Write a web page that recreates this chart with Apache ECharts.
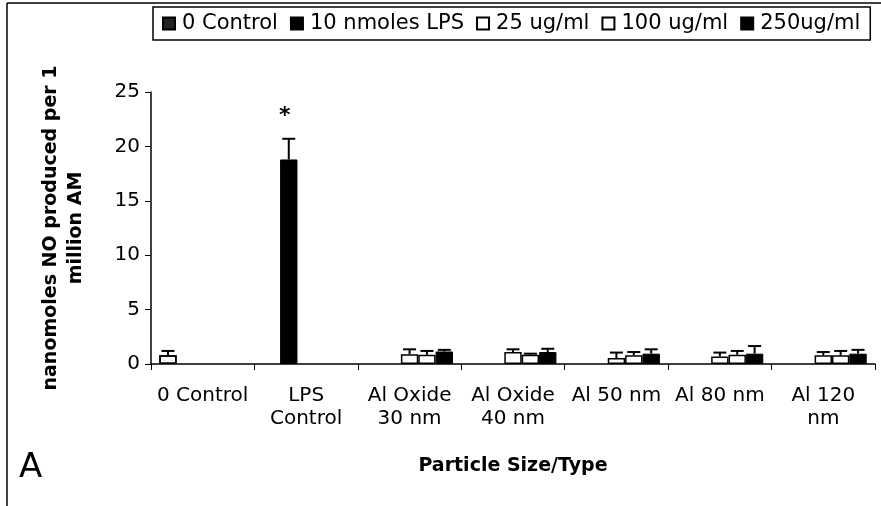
<!DOCTYPE html>
<html>
<head>
<meta charset="utf-8">
<script src="https://cdn.jsdelivr.net/npm/echarts@6/dist/echarts.min.js"></script>
<style>
  html, body { margin: 0; padding: 0; background: #fff; }
  #chart { width: 881px; height: 506px; }
</style>
</head>
<body>
<div id="chart"></div>
<script>
var categories = ['0 Control', 'LPS\nControl', 'Al Oxide\n30 nm', 'Al Oxide\n40 nm', 'Al 50 nm', 'Al 80 nm', 'Al 120\nnm'];
var seriesNames = ['0 Control', '10 nmoles LPS', '25 ug/ml', '100 ug/ml', '250ug/ml'];

var control0 = [0.8, null, null, null, null, null, null];
var lps10 = [null, 18.8, null, null, null, null, null];
var dose25 = [null, null, 0.9, 1.1, 0.55, 0.7, 0.8];
var dose100 = [null, null, 0.85, 0.85, 0.8, 0.85, 0.8];
var dose250 = [null, null, 1.15, 1.1, 0.95, 0.95, 0.95];

var control0Err = [0.4, null, null, null, null, null, null];
var lps10Err = [null, 1.9, null, null, null, null, null];
var dose25Err = [null, null, 0.45, 0.25, 0.5, 0.35, 0.3];
var dose100Err = [null, null, 0.35, 0.1, 0.3, 0.35, 0.4];
var dose250Err = [null, null, 0.15, 0.3, 0.4, 0.7, 0.35];

var yTicks = [0, 5, 10, 15, 20, 25];

var font = '"DejaVu Sans", sans-serif';
var catGap = 0.16;
var values = [control0, lps10, dose25, dose100, dose250];
var errors = [control0Err, lps10Err, dose25Err, dose100Err, dose250Err];
var styles = [
  { color: '#fff', borderColor: '#000', borderWidth: 1.5,
    decal: { symbol: 'rect', symbolSize: 0.6, color: '#333', dashArrayX: [1, 2], dashArrayY: [1, 3], rotation: 0.6 } },
  { color: '#000', borderColor: '#000', borderWidth: 1 },
  { color: '#fff', borderColor: '#000', borderWidth: 1.5 },
  { color: '#fff', borderColor: '#000', borderWidth: 1.5 },
  { color: '#000', borderColor: '#000', borderWidth: 1 }
];

var series = [];
values.forEach(function (vals, i) {
  var s = {
    name: seriesNames[i],
    type: 'bar',
    data: vals,
    barGap: '0%',
    barCategoryGap: (catGap * 100) + '%',
    itemStyle: styles[i],
    emphasis: { disabled: true }
  };
  if (i === 1) {
    s.markPoint = {
      symbol: 'circle', symbolSize: 0,
      label: { show: true, formatter: '*', color: '#000', fontSize: 22, fontWeight: 'bold', fontFamily: font, offset: [-4, 6] },
      data: [{ coord: [1, 23.3] }]
    };
  }
  series.push(s);
});

// error bars (upper half only, lower half is hidden inside the bar)
values.forEach(function (vals, i) {
  var data = [];
  vals.forEach(function (v, c) {
    if (v != null) data.push([c, v, errors[i][c]]);
  });
  series.push({
    type: 'custom',
    z: 5,
    silent: true,
    data: data,
    encode: { x: 0, y: 1 },
    renderItem: function (params, api) {
      var c = api.value(0), v = api.value(1), e = api.value(2);
      var base = api.coord([c, v]);
      var top = api.coord([c, v + e]);
      var band = api.size([1, 0])[0];
      var used = band * (1 - catGap);
      var bw = used / 5;
      var x = base[0] - used / 2 + (i + 0.5) * bw;
      var cap = 6.5;
      var st = { stroke: '#000', lineWidth: 2 };
      return {
        type: 'group',
        children: [
          { type: 'line', shape: { x1: x, y1: base[1], x2: x, y2: top[1] }, style: st },
          { type: 'line', shape: { x1: x - cap, y1: top[1], x2: x + cap, y2: top[1] }, style: st }
        ]
      };
    }
  });
});

var legendData = seriesNames.map(function (n, i) {
  var d = { name: n, icon: 'rect' };
  if (i === 0) d.itemStyle = { color: '#222', borderColor: '#000', decal: 'none' };
  return d;
});

var chart = echarts.init(document.getElementById('chart'), null, { renderer: 'canvas' });
chart.setOption({
  animation: false,
  backgroundColor: '#fff',
  textStyle: { fontFamily: font, color: '#000' },
  legend: {
    data: legendData,
    left: 153,
    top: 7,
    borderColor: '#000',
    borderWidth: 1.5,
    padding: [6, 10, 6, 9],
    itemWidth: 12,
    itemHeight: 12,
    itemGap: 12,
    selectedMode: false,
    textStyle: { fontSize: 21, fontFamily: font, color: '#000', padding: [0, 0, 0, 2] }
  },
  grid: { left: 151, right: 6, top: 92, bottom: 142 },
  xAxis: {
    type: 'category',
    data: categories,
    name: 'Particle Size/Type',
    nameLocation: 'middle',
    nameGap: 93,
    nameTextStyle: { fontSize: 19, fontWeight: 'bold', fontFamily: font, color: '#000' },
    axisLine: { lineStyle: { color: '#000', width: 1.5 } },
    axisTick: { show: true, length: 6, lineStyle: { color: '#000', width: 1 } },
    axisLabel: { fontSize: 20, fontFamily: font, color: '#000', margin: 20, lineHeight: 23, interval: 0 }
  },
  yAxis: {
    type: 'value',
    min: yTicks[0],
    max: yTicks[yTicks.length - 1],
    interval: yTicks[1] - yTicks[0],
    name: 'nanomoles NO produced per 1\nmillion AM',
    nameLocation: 'middle',
    nameGap: 62,
    nameTextStyle: { fontSize: 19, fontWeight: 'bold', fontFamily: font, color: '#000', lineHeight: 25 },
    axisLine: { show: true, lineStyle: { color: '#000', width: 1.5 } },
    axisTick: { show: true, length: 6, lineStyle: { color: '#000', width: 1 } },
    axisLabel: { fontSize: 20, fontFamily: font, color: '#000', margin: 11 },
    splitLine: { show: false }
  },
  graphic: [
    { type: 'line', shape: { x1: 7, y1: 3, x2: 881, y2: 3 }, style: { stroke: '#000', lineWidth: 1.5 } },
    { type: 'line', shape: { x1: 7, y1: 3, x2: 7, y2: 506 }, style: { stroke: '#000', lineWidth: 1.5 } },
    { type: 'text', left: 19, top: 451, style: { text: 'A', fontSize: 34, fontFamily: font, fill: '#000' } }
  ],
  series: series
});
</script>
</body>
</html>
